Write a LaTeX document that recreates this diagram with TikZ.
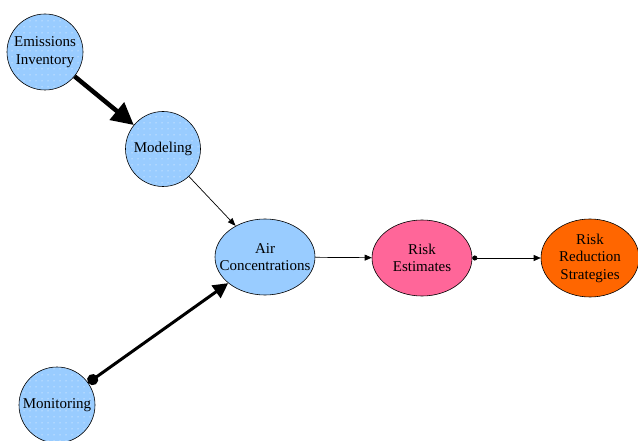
\documentclass[tikz,border=0pt]{standalone}
\usepackage{fontspec}
\setmainfont{Liberation Serif}
\usetikzlibrary{patterns.meta,arrows.meta,shapes.geometric}
\definecolor{lblue}{RGB}{153,204,255}
\definecolor{rpink}{RGB}{255,102,153}
\definecolor{rorange}{RGB}{255,102,0}
\tikzset{
  bubble/.style={circle,draw=black,line width=0.6pt,preaction={fill=lblue},pattern={Dots[radius=0.5pt,distance=6pt]},pattern color=white,inner sep=0pt,align=center,font=\fontsize{15}{17.5}\selectfont},
  oval/.style={ellipse,draw=black,line width=0.6pt,inner xsep=-14pt,inner ysep=0pt,align=center,font=\fontsize{15}{17.5}\selectfont},
  thin arrow/.style={line width=0.7pt,-{Triangle[length=7pt,width=6pt]}},
}
\begin{document}
\begin{tikzpicture}[x=1pt,y=-1pt]
\useasboundingbox (0,0) rectangle (638,441);
\node[bubble,minimum size=76pt] (emi) at (45,52) {Emissions\\Inventory};
\node[bubble,minimum size=75pt] (mod) at (163,149) {Modeling};
\node[bubble,minimum size=76pt] (mon) at (57,405) {Monitoring};
\node[oval,fill=lblue,minimum width=100pt,minimum height=76pt] (air) at (265,257) {Air\\Concentrations};
\node[oval,fill=rpink,minimum width=100pt,minimum height=76pt] (risk) at (422,258) {Risk\\Estimates};
\node[oval,fill=rorange,minimum width=98pt,minimum height=78pt] (rrs) at (590,258) {Risk\\Reduction\\Strategies};
\draw[line width=4.5pt,-{Triangle[length=22pt,width=22pt]}] (emi) -- (mod);
\draw[line width=0.7pt,-{Triangle[length=8pt,width=6pt]}] (mod) -- (air);
\draw[line width=3pt,{Circle[length=11pt]}-{Triangle[length=15pt,width=15pt]}] (mon) -- (air);
\draw[thin arrow] (air) -- (risk);
\draw[thin arrow,{Circle[length=5pt]}-{Triangle[length=7pt,width=6pt]}] (risk) -- (rrs);
\end{tikzpicture}
\end{document}
